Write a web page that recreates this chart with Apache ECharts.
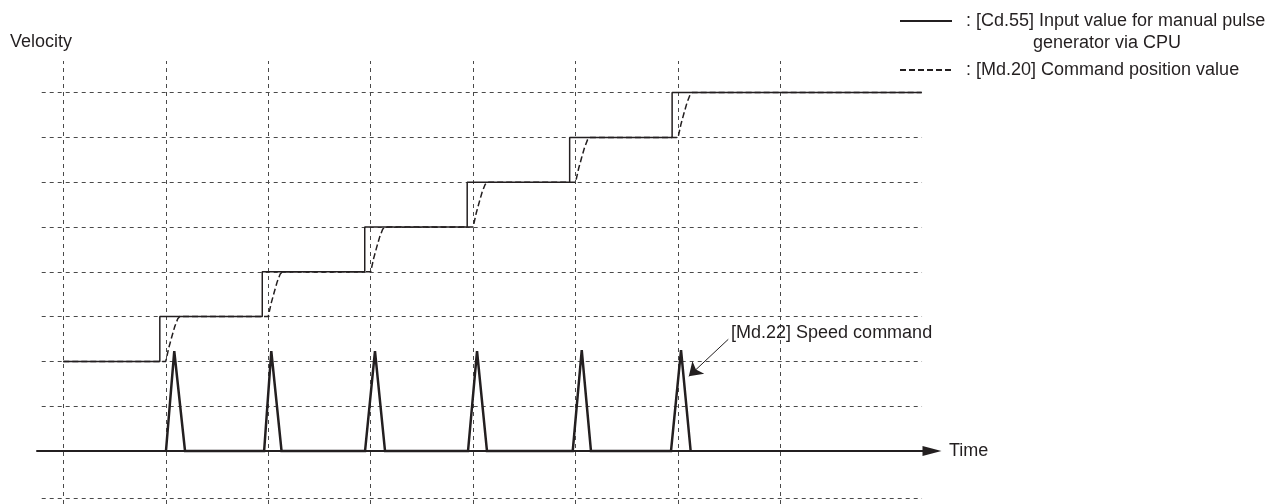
<!DOCTYPE html>
<html><head><meta charset="utf-8">
<script src="https://cdn.jsdelivr.net/npm/echarts@6/dist/echarts.min.js"></script>
<style>html,body{margin:0;padding:0;background:#fff}#c{width:1271px;height:504px}</style>
</head><body><div id="c"></div><script>
// ---- data ----
const gridTimes = [0, 1, 2, 3, 4, 5, 6, 7];
const gridLevels = [-1.05, 1, 2, 3, 4, 5, 6, 7, 8];
const inputStepTimes = [0.942, 1.942, 2.942, 3.942, 4.942, 5.942];
const inputLevels = [2, 3, 4, 5, 6, 7, 8];
const timeStart = 0;
const timeEnd = 8.378;
const followStartTimes = [1, 2, 3, 4, 5, 6];
const followOffsets = [0, 0.029, 0.059, 0.088, 0.117, 0.137];
const followFractions = [0, 0.3, 0.55, 0.78, 0.95, 1];
const spikeStart = [1.002, 1.96, 2.945, 3.95, 4.972, 5.931];
const spikePeak = [1.083, 2.03, 3.042, 4.038, 5.06, 6.029];
const spikeEnd = [1.188, 2.13, 3.14, 4.135, 5.15, 6.123];
const spikeHeight = [2.23, 2.23, 2.23, 2.23, 2.25, 2.25];
const legendLabels = [': [Cd.55] Input value for manual pulse', ': [Md.20] Command position value'];
const legendSubLabel = 'generator via CPU';
const axisNames = ['Time', 'Velocity'];
const annotationText = '[Md.22] Speed command';
const annotationTextAt = [6.517, 2.634];
const annotationArrow = [[6.49, 2.493], [6.105, 1.668]];

// ---- build series data ----
const inputData = [[timeStart, inputLevels[0]]];
inputStepTimes.forEach((t, i) => { inputData.push([t, inputLevels[i]], [t, inputLevels[i + 1]]); });
inputData.push([timeEnd, inputLevels[inputLevels.length - 1]]);

const followData = [[timeStart, inputLevels[0]]];
followStartTimes.forEach((t, i) => {
  followOffsets.forEach((o, j) => {
    followData.push([t + o, inputLevels[i] + followFractions[j] * (inputLevels[i + 1] - inputLevels[i])]);
  });
});
followData.push([timeEnd, inputLevels[inputLevels.length - 1]]);

const speedData = [];
spikeStart.forEach((s, i) => { speedData.push([s, 0], [spikePeak[i], spikeHeight[i]], [spikeEnd[i], 0]); });

const vTop = 8.705, vBottom = -1.183, hLeft = -0.2108, hRight = 8.381;
const gridLineData = gridTimes.map(t => ({ coords: [[t, vBottom], [t, vTop]] }))
  .concat(gridLevels.map(l => ({ coords: [[hLeft, l], [hRight, l]] })));

const FONT = 'Liberation Sans, Arial, Helvetica, sans-serif';
const INK = '#231f20';
const HIDDEN = 'rgba(0,0,0,0)';

const legendBase = {
  padding: 0, itemWidth: 52, itemHeight: 14, selectedMode: false, left: 899,
  itemStyle: { color: HIDDEN, borderColor: HIDDEN, borderWidth: 0, opacity: 0 },
  textStyle: { fontSize: 18, lineHeight: 22, color: INK, fontFamily: FONT, padding: [0, 0, 0, 9] }
};

const chart = echarts.init(document.getElementById('c'));
chart.setOption({
  animation: false,
  backgroundColor: '#fff',
  title: [
    { text: axisNames[1], left: 10, top: 33, padding: 0, textStyle: { fontSize: 18, fontWeight: 'normal', color: INK, fontFamily: FONT } },
    { text: legendSubLabel, left: 1033, top: 34, padding: 0, textStyle: { fontSize: 18, fontWeight: 'normal', color: INK, fontFamily: FONT } }
  ],
  legend: [
    Object.assign({}, legendBase, { data: ['cd55'], top: 10, formatter: () => legendLabels[0] }),
    Object.assign({}, legendBase, { data: ['md20'], top: 59, formatter: () => legendLabels[1] })
  ],
  grid: { left: 37, right: 339, top: 60, bottom: 0, containLabel: false },
  xAxis: {
    type: 'value', min: -0.25669, max: 8.4784, z: 5,
    name: axisNames[0], nameLocation: 'end', nameGap: 17,
    nameTextStyle: { fontSize: 18, color: INK, fontFamily: FONT },
    axisLine: { show: true, onZero: true, symbol: ['none', 'triangle'], symbolSize: [10, 19], lineStyle: { color: INK, width: 2 } },
    axisTick: { show: false }, axisLabel: { show: false }, splitLine: { show: false }
  },
  yAxis: {
    type: 'value', min: -1.183, max: 8.7277,
    axisLine: { show: false }, axisTick: { show: false }, axisLabel: { show: false }, splitLine: { show: false }
  },
  series: [
    { name: 'grid', type: 'lines', coordinateSystem: 'cartesian2d', silent: true, z: 1,
      lineStyle: { color: '#4a4a4a', width: 1, type: [4, 4], opacity: 1 }, data: gridLineData },
    { name: 'cd55', type: 'line', data: inputData, symbol: 'none', z: 3,
      lineStyle: { color: INK, width: 1.5 }, itemStyle: { color: INK } },
    { name: 'md20', type: 'line', data: followData, symbol: 'none', z: 4,
      lineStyle: { color: INK, width: 1.5, type: [6, 3] }, itemStyle: { color: INK } },
    { name: 'md22', type: 'line', data: speedData, symbol: 'none', z: 6,
      lineStyle: { color: INK, width: 2.5, join: 'miter' }, itemStyle: { color: INK } },
    { name: 'arrow', type: 'lines', coordinateSystem: 'cartesian2d', silent: true, z: 7,
      symbol: ['none', 'arrow'], symbolSize: [8, 13],
      lineStyle: { color: INK, width: 1, type: 'solid', opacity: 1 }, itemStyle: { color: INK },
      data: [{ coords: annotationArrow }] },
    { name: 'label', type: 'scatter', data: [annotationTextAt], symbolSize: 0, silent: true, z: 7,
      itemStyle: { opacity: 1, color: INK },
      label: { show: true, position: 'right', distance: 0, formatter: annotationText,
        fontSize: 18, color: INK, fontFamily: FONT, opacity: 1 } }
  ]
});
</script></body></html>
